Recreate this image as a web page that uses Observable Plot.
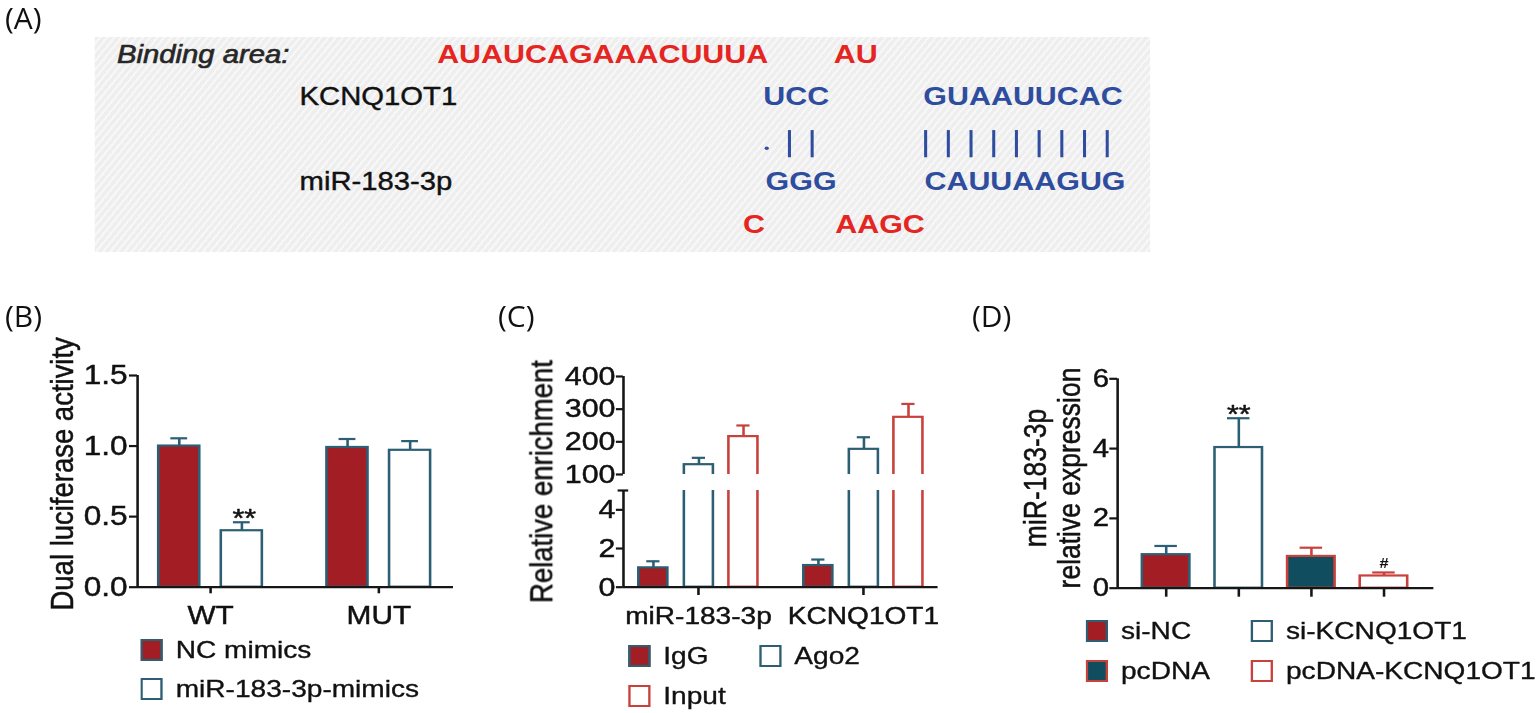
<!DOCTYPE html>
<html>
<head>
<meta charset="utf-8">
<script src="https://cdn.jsdelivr.net/npm/d3@7"></script>
<script src="https://cdn.jsdelivr.net/npm/@observablehq/plot@0.6"></script>
<style>
html, body { margin: 0; padding: 0; background: #fff; }
body { width: 1540px; height: 713px; position: relative; overflow: hidden; font-family: "Liberation Sans", Arial, sans-serif; }
#fig { position: absolute; left: 0; top: 0; width: 1316.3px; height: 713px; transform: scaleX(1.17); transform-origin: 0 0; }
.panel { position: absolute; }
.panel svg { max-width: none !important; display: block; }
.panel svg g[aria-label$="tick label"] text { stroke: #111; stroke-width: 0.45px; }
.plab { position: absolute; font-family: "Open Sans", sans-serif; font-size: 30px; line-height: 30px; color: #111; }
.item { position: absolute; display: flex; align-items: center; white-space: nowrap; height: 40px; font-size: 24px; color: #111; -webkit-text-stroke: 0.35px #111; }
.sw { box-sizing: border-box; border: 2px solid; flex: none; }
.hatch { position: absolute; background: repeating-linear-gradient(125deg, #eeeeee 0px, #eeeeee 3px, #f7f7f7 3px, #f7f7f7 5px); }
</style>
</head>
<body>
<div id="fig"></div>
<div class="plab" style="left:5px; top:3px;">(A)</div>
<div class="plab" style="left:5px; top:301px;">(B)</div>
<div class="plab" style="left:498px; top:301px;">(C)</div>
<div class="plab" style="left:972px; top:301px;">(D)</div>
<script>
// ---------------- DATA ----------------
// Panel A: binding site alignment
const headingA = "Binding area:";
const nameLabelsA = ["KCNQ1OT1", "miR-183-3p"];
const nameRowsA = [1, 3];
const unpairedA = ["AUAUCAGAAACUUUA", "AU", "C", "AAGC"];
const unpairedColsA = [-14.37, 3.1, -0.9, 3.17];
const unpairedRowsA = [0, 0, 4, 4];
const pairedA = ["UCC", "GUAAUUCAC", "GGG", "CAUUAAGUG"];
const pairedColsA = [0, 7.05, 0.1, 7.1];
const pairedRowsA = [1, 1, 3, 3];
const bondColsA = [1, 2, 7, 8, 9, 10, 11, 12, 13, 14, 15];
const wobbleColsA = [0];

// Panel B: dual luciferase
const groupsB = ["WT", "MUT"];
const seriesB = ["NC mimics", "miR-183-3p-mimics"];
const meanB_NC = [1.00, 0.99];
const errB_NC = [0.055, 0.06];
const meanB_MIM = [0.40, 0.97];
const errB_MIM = [0.06, 0.065];
const sigB_MIM = ["**", ""];
const ticksB = [0, 0.5, 1.0, 1.5];
const titleB = "Dual luciferase activity";

// Panel C: RIP enrichment
const groupsC = ["miR-183-3p", "KCNQ1OT1"];
const seriesC = ["IgG", "Ago2", "Input"];
const meanC_IgG = [1.0, 1.12];
const errC_IgG = [0.34, 0.31];
const meanC_Ago2 = [130, 177];
const errC_Ago2 = [21, 37];
const meanC_Input = [216, 275];
const errC_Input = [34, 41];
const ticksC_low = [0, 2, 4];
const ticksC_high = [100, 200, 300, 400];
const titleC = "Relative enrichment";

// Panel D: miR-183-3p expression
const seriesD = ["si-NC", "si-KCNQ1OT1", "pcDNA", "pcDNA-KCNQ1OT1"];
const meanD = [0.96, 4.03, 0.91, 0.35];
const errD = [0.25, 0.84, 0.25, 0.10];
const sigD = ["", "**", "", "#"];
const ticksD = [0, 2, 4, 6];
const titleD = "miR-183-3p\nrelative expression";

// ---------------- STYLE / LAYOUT ----------------
const FONT = '"Liberation Sans", Arial, Helvetica, sans-serif';
const RED = "#a31d24", TEAL = "#2c5f73", DTEAL = "#0f4d5f", RED2 = "#c8413b";
const BLUE = "#2f4d9e", SEQRED = "#e52521", AX = "#161616";
const S = 1.17;              // horizontal stretch of the whole figure
const u = px => px / S;      // reference px -> unstretched px
const fig = document.getElementById("fig");

function place(node, left, top, width) {
  const w = document.createElement("div");
  w.className = "panel";
  w.style.left = u(left) + "px";
  w.style.top = top + "px";
  w.style.width = u(width) + "px";
  w.append(node);
  fig.append(w);
}
function baseStyle(fs) {
  return {fontFamily: FONT, fontSize: fs + "px", color: "#111", background: "transparent", overflow: "visible"};
}
function legend(items, cols, rows) {
  items.forEach(it => {
    const el = document.createElement("div");
    el.className = "item";
    el.style.left = u(cols[it.col]) + "px";
    el.style.top = (rows[it.row] - 20) + "px";
    const sw = document.createElement("div");
    sw.className = "sw";
    sw.style.width = u(22) + "px";
    sw.style.height = "22px";
    sw.style.background = it.fill;
    sw.style.borderColor = it.stroke;
    const tx = document.createElement("span");
    tx.textContent = it.label;
    tx.style.marginLeft = u(13) + "px";
    el.append(sw, tx);
    fig.append(el);
  });
}
function errMarks(rows, xf, cap, stroke) {
  return [
    Plot.ruleX(rows, {x: xf, y1: d => d.value, y2: d => d.value + d.err, stroke, strokeWidth: 2.2}),
    Plot.ruleY(rows, {y: d => d.value + d.err, x1: d => xf(d) - cap, x2: d => xf(d) + cap, stroke, strokeWidth: 2.2})
  ];
}
function barMark(rows, xf, hw, fill, stroke, clip) {
  return Plot.rect(rows, {x1: d => xf(d) - hw, x2: d => xf(d) + hw, y1: 0, y2: d => d.value,
    fill, stroke, strokeWidth: 2.2, clip: !!clip});
}
const titleOpts = {text: d => d, rotate: -90, textAnchor: "middle", lineAnchor: "middle", fill: "#111", stroke: "#111", strokeWidth: 0.45};

// ---------------- PANEL A ----------------
{
  const left = 95, top = 37, W = 1055, H = 215;
  const bg = document.createElement("div");
  bg.className = "hatch";
  bg.style.left = u(left) + "px"; bg.style.top = top + "px";
  bg.style.width = u(W) + "px"; bg.style.height = H + "px";
  fig.append(bg);
  const names = nameLabelsA.map((t, i) => ({text: t, row: nameRowsA[i]}));
  const unp = unpairedA.map((t, i) => ({text: t, col: unpairedColsA[i], row: unpairedRowsA[i]}));
  const par = pairedA.map((t, i) => ({text: t, col: pairedColsA[i], row: pairedRowsA[i]}));
  const colPx = 22.7, col0 = 763, rowPx = 42.5, row0 = 54;
  const plotA = Plot.plot({
    width: u(W), height: H, margin: 0,
    x: {domain: [(left - col0) / colPx, (left + W - col0) / colPx], axis: null},
    y: {domain: [(top - row0) / rowPx, (top + H - row0) / rowPx], reverse: true, axis: null},
    style: baseStyle(26),
    marks: [
      Plot.text([headingA], {x: -28.47, y: 0, text: d => d, textAnchor: "start", lineAnchor: "middle",
        fontStyle: "italic", fontSize: 25, fill: "#262626", stroke: "#3a3a3a", strokeWidth: 0.7}),
      Plot.text(names, {x: -20.43, y: "row", text: "text", textAnchor: "start", lineAnchor: "middle", fontSize: 25, fill: "#111", stroke: "#111", strokeWidth: 0.4}),
      Plot.text(unp, {x: "col", y: "row", text: "text", textAnchor: "start", lineAnchor: "middle", fontSize: 26, fontWeight: "bold", fill: SEQRED}),
      Plot.text(par, {x: "col", y: "row", text: "text", textAnchor: "start", lineAnchor: "middle", fontSize: 26, fontWeight: "bold", fill: BLUE}),
      Plot.ruleX(bondColsA, {x: d => d + 0.15, y1: 1.79, y2: 2.43, stroke: BLUE, strokeWidth: 2.6}),
      Plot.dot(wobbleColsA, {x: d => d + 0.15, y: 2.205, r: 1.8, fill: BLUE, stroke: null})
    ]
  });
  place(plotA, left, top, W);
}

// ---------------- PANEL B ----------------
{
  const rows = [];
  groupsB.forEach((g, gi) => {
    rows.push({gi, si: 0, value: meanB_NC[gi], err: errB_NC[gi], sig: ""});
    rows.push({gi, si: 1, value: meanB_MIM[gi], err: errB_MIM[gi], sig: sigB_MIM[gi]});
  });
  const off = [-0.186, 0.186], hw = 0.122, cap = 0.05;
  const xf = d => d.gi + off[d.si];
  const xd = [-0.434, 1.444];
  const W = 470, H = 280;
  const plotB = Plot.plot({
    width: u(W), height: H,
    marginLeft: u(137), marginRight: u(17), marginTop: 35, marginBottom: 33.3,
    x: {domain: xd, axis: null},
    y: {domain: [0, 1.5], axis: null},
    style: baseStyle(27),
    marks: [
      ...errMarks(rows, xf, cap, TEAL),
      barMark(rows.filter(d => d.si === 0), xf, hw, RED, TEAL),
      barMark(rows.filter(d => d.si === 1), xf, hw, "white", TEAL),
      Plot.ruleY([0], {stroke: AX, strokeWidth: 2.2}),
      Plot.ruleX([xd[0]], {stroke: AX, strokeWidth: 2.2}),
      Plot.axisY({ticks: ticksB, tickFormat: ".1f", tickSize: u(8), tickPadding: u(2), fontSize: 27, strokeWidth: 2.2, stroke: AX, label: null}),
      Plot.axisX({ticks: [0, 1], tickFormat: i => groupsB[i], tickSize: 6.6, tickPadding: 11.7, fontSize: 25.5, strokeWidth: 2.2, stroke: AX, label: null}),
      Plot.text(rows.filter(d => d.sig), {x: xf, y: d => d.value + d.err, text: "sig", lineAnchor: "bottom", dx: 2, dy: 5, fontSize: 26, fill: "#111", stroke: "#111", strokeWidth: 0.5}),
      Plot.text([titleB], {...titleOpts, frameAnchor: "left", dx: u(62 - 137), dy: -7.5, fontSize: 27.5})
    ]
  });
  place(plotB, 0, 340, W);
  legend([
    {label: seriesB[0], fill: RED, stroke: TEAL, col: 0, row: 0},
    {label: seriesB[1], fill: "white", stroke: TEAL, col: 0, row: 1}
  ], [140.7], [650, 689]);
}

// ---------------- PANEL C ----------------
{
  const means = [meanC_IgG, meanC_Ago2, meanC_Input];
  const errs = [errC_IgG, errC_Ago2, errC_Input];
  const rows = [];
  groupsC.forEach((g, gi) => seriesC.forEach((s, si) => rows.push({gi, si, value: means[si][gi], err: errs[si][gi]})));
  const off = [-0.273, 0.003, 0.273], hw = 0.088, cap = 0.04;
  const xf = d => d.gi + off[d.si];
  const xd = [-0.4545, 1.4527];
  const W = 450;

  // upper segment (100-400)
  const hi = rows.filter(d => d.si > 0);
  const plotHi = Plot.plot({
    width: u(W), height: 136,
    marginLeft: u(123.3), marginRight: u(12), marginTop: 36, marginBottom: 2,
    x: {domain: xd, axis: null},
    y: {domain: [100, 400], axis: null},
    style: baseStyle(26),
    marks: [
      ...errMarks(hi.filter(d => d.si === 1), xf, cap, TEAL),
      ...errMarks(hi.filter(d => d.si === 2), xf, cap, RED2),
      barMark(hi.filter(d => d.si === 1), xf, hw, "white", TEAL, true),
      barMark(hi.filter(d => d.si === 2), xf, hw, "white", RED2, true),
      Plot.ruleX([xd[0]], {stroke: AX, strokeWidth: 2.2}),
      Plot.axisY({ticks: ticksC_high, tickFormat: "d", tickSize: u(7), tickPadding: u(1), fontSize: 26, strokeWidth: 2.2, stroke: AX, label: null})
    ]
  });
  place(plotHi, 500, 340, W);

  // lower segment (0-5)
  const plotLo = Plot.plot({
    width: u(W), height: 154,
    marginLeft: u(123.3), marginRight: u(12), marginTop: 14, marginBottom: 43.3,
    x: {domain: xd, axis: null},
    y: {domain: [0, 5], axis: null},
    style: baseStyle(26),
    marks: [
      ...errMarks(rows.filter(d => d.si === 0), xf, cap, TEAL),
      barMark(rows.filter(d => d.si === 0), xf, hw, RED, TEAL, true),
      barMark(rows.filter(d => d.si === 1), xf, hw, "white", TEAL, true),
      barMark(rows.filter(d => d.si === 2), xf, hw, "white", RED2, true),
      Plot.ruleY([0], {stroke: AX, strokeWidth: 2.2}),
      Plot.ruleX([xd[0]], {stroke: AX, strokeWidth: 2.2}),
      Plot.ruleY([5], {x1: xd[0] - 0.032, x2: xd[0] + 0.032, stroke: AX, strokeWidth: 2.2}),
      Plot.axisY({ticks: ticksC_low, tickFormat: "d", tickSize: u(7), tickPadding: u(1), fontSize: 26, strokeWidth: 2.2, stroke: AX, label: null}),
      Plot.axisX({ticks: [0, 1], tickFormat: i => groupsC[i], tickSize: 8.3, tickPadding: 11.7, fontSize: 24, strokeWidth: 2.2, stroke: AX, label: null}),
      Plot.text([titleC], {...titleOpts, frameAnchor: "left", dx: u(542 - 623.3), dy: -57.3, fontSize: 27.5})
    ]
  });
  place(plotLo, 500, 476, W);
  legend([
    {label: seriesC[0], fill: RED, stroke: TEAL, col: 0, row: 0},
    {label: seriesC[1], fill: "white", stroke: TEAL, col: 1, row: 0},
    {label: seriesC[2], fill: "white", stroke: RED2, col: 0, row: 1}
  ], [628.3, 759.3], [656, 696]);
}

// ---------------- PANEL D ----------------
{
  const rows = seriesD.map((s, si) => ({si, value: meanD[si], err: errD[si], sig: sigD[si]}));
  const fills = [RED, "white", DTEAL, "white"];
  const strokes = [TEAL, TEAL, RED2, RED2];
  const hw = 0.327, cap = 0.155;
  const xf = d => d.si;
  const xd = [-0.669, 3.687];
  const W = 450, H = 280;
  const plotD = Plot.plot({
    width: u(W), height: H,
    marginLeft: u(116.7), marginRight: u(17), marginTop: 38.3, marginBottom: 32.3,
    x: {domain: xd, axis: null},
    y: {domain: [0, 6], axis: null},
    style: baseStyle(25),
    marks: [
      ...rows.flatMap(d => errMarks([d], xf, cap, strokes[d.si])),
      ...rows.map(d => barMark([d], xf, hw, fills[d.si], strokes[d.si])),
      Plot.ruleY([0], {stroke: AX, strokeWidth: 2.2}),
      Plot.ruleX([xd[0]], {stroke: AX, strokeWidth: 2.2}),
      Plot.axisY({ticks: ticksD, tickFormat: "d", tickSize: u(7.7), tickPadding: u(1), fontSize: 25, strokeWidth: 2.2, stroke: AX, label: null}),
      Plot.axisX({ticks: [0, 1, 2, 3], tickFormat: () => "", tickSize: 9, strokeWidth: 2.2, stroke: AX, label: null}),
      Plot.text(rows.filter(d => d.sig === "**"), {x: xf, y: d => d.value + d.err, text: "sig", lineAnchor: "bottom", dy: 5, fontSize: 26, fill: "#111", stroke: "#111", strokeWidth: 0.5}),
      Plot.text(rows.filter(d => d.sig === "#"), {x: xf, y: d => d.value + d.err, text: "sig", lineAnchor: "bottom", dy: -4, fontSize: 14, fontWeight: "bold", fill: "#111"}),
      Plot.text([titleD], {...titleOpts, frameAnchor: "left", dx: u(1051.5 - 1116.7), dy: -5.5, fontSize: 26.5, lineHeight: 1.07})
    ]
  });
  place(plotD, 1000, 340, W);
  legend([
    {label: seriesD[0], fill: fills[0], stroke: strokes[0], col: 0, row: 0},
    {label: seriesD[1], fill: fills[1], stroke: strokes[1], col: 1, row: 0},
    {label: seriesD[2], fill: fills[2], stroke: strokes[2], col: 0, row: 1},
    {label: seriesD[3], fill: fills[3], stroke: strokes[3], col: 1, row: 1}
  ], [1086, 1251], [631, 671]);
}
</script>
</body>
</html>
